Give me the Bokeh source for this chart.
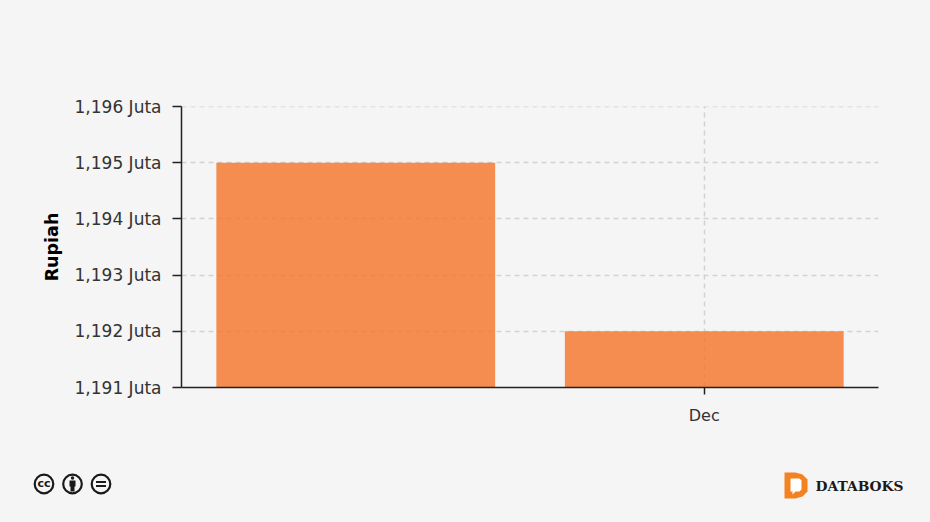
from bokeh.plotting import figure
from bokeh.layouts import column
from bokeh.models import FixedTicker, Range1d
from bokeh.core.properties import value
from bokeh.embed import file_html
from bokeh.resources import INLINE

categories = ["", "Dec"]
values = [1195, 1192]
y_ticks = [1191, 1192, 1193, 1194, 1195, 1196]
y_tick_labels = {t: f"1,{t - 1000} Juta" for t in y_ticks}
axis_title = "Rupiah"
BG = "#f5f5f5"
FONT = "DejaVu Sans"
FOOT_TOP = 450

positions = [i + 0.5 for i in range(len(categories))]
p = figure(width=930, height=FOOT_TOP, output_backend="svg", toolbar_location=None,
           x_range=Range1d(0, len(categories)), y_range=Range1d(y_ticks[0], y_ticks[-1] + 0.002),
           min_border_left=181, min_border_right=52, min_border_top=106, min_border_bottom=63,
           background_fill_color=BG, border_fill_color=BG, frame_align=False)
p.outline_line_color = None
p.vbar(x=positions, top=values, bottom=y_ticks[0], width=0.8, color="#F57932", alpha=0.85, line_color=None)

p.xaxis.ticker = FixedTicker(ticks=[x for x, c in zip(positions, categories) if c])
p.xaxis.major_label_overrides = {x: c for x, c in zip(positions, categories) if c}
p.yaxis.ticker = FixedTicker(ticks=y_ticks)
p.yaxis.major_label_overrides = y_tick_labels
p.yaxis.axis_label = axis_title
p.yaxis.axis_label_text_font = FONT
p.yaxis.axis_label_text_font_style = "bold"
p.yaxis.axis_label_text_font_size = "17.5px"
p.yaxis.axis_label_text_color = "#000000"
p.yaxis.axis_label_standoff = 10
for ax, out, standoff, size in ((p.xaxis, 7, 11, "16px"), (p.yaxis, 9, 11, "17px")):
    ax.major_label_text_font = FONT
    ax.major_label_text_font_size = size
    ax.major_label_text_color = "#333333"
    ax.major_tick_out = out
    ax.major_tick_in = 0
    ax.minor_tick_out = 0
    ax.minor_tick_in = 0
    ax.major_tick_line_color = "#222222"
    ax.major_tick_line_width = 1.5
    ax.axis_line_color = "#222222"
    ax.axis_line_width = 1.5
    ax.major_label_standoff = standoff
p.grid.grid_line_color = "#d2d2d2"
p.grid.grid_line_dash = "5 4"
p.grid.grid_line_width = 1.5

# footer strip: data units are page pixels
f = figure(width=930, height=522 - FOOT_TOP, output_backend="svg", toolbar_location=None,
           x_range=Range1d(0, 930), y_range=Range1d(522, FOOT_TOP),
           min_border=0, background_fill_color=BG, border_fill_color=BG, frame_align=False)
f.axis.visible = False
f.grid.visible = False
f.outline_line_color = None
INK = "#1a1a1a"
f.circle(x=[43.5, 72, 100.5], y=[483.5] * 3, radius=9.3, fill_color=None, line_color=INK, line_width=2.2)
f.text(x=[43.5], y=[482.5], text=["cc"], text_font=value(FONT), text_font_style="bold", text_font_size="11px",
       text_color=INK, text_align="center", text_baseline="middle")
f.circle(x=[72], y=[477.5], radius=1.7, fill_color=INK, line_color=None)
f.patch([69, 75, 75, 74, 74, 70, 70, 69], [480, 480, 486, 486, 491, 491, 486, 486], fill_color=INK, line_color=None)
f.quad(left=[95.5, 95.5], right=[105.5, 105.5], top=[480.5, 484.5], bottom=[482.5, 486.5], fill_color=INK, line_color=None)
f.patch([784, 795, 802, 807, 807, 802, 795, 784], [472, 472, 474, 479, 491, 496, 498, 498], fill_color="#F58220", line_color=None)
f.patch([790, 799, 801, 801, 799, 795, 792, 792, 790], [478, 478, 480, 489, 491, 491, 494, 491, 491], fill_color="#ffffff", line_color=None)
f.text(x=[815], y=[485], text=["DATABOKS"], text_font=value("DejaVu Serif"), text_font_style="bold",
       text_font_size="13.8px", text_color=INK, text_align="left", text_baseline="middle")

layout = column(p, f, spacing=0)
html = file_html(layout, INLINE)
html = html.replace("<head>", f"<head><style>html,body{{background:{BG};}}</style>", 1)
open("out.html", "w").write(html)
